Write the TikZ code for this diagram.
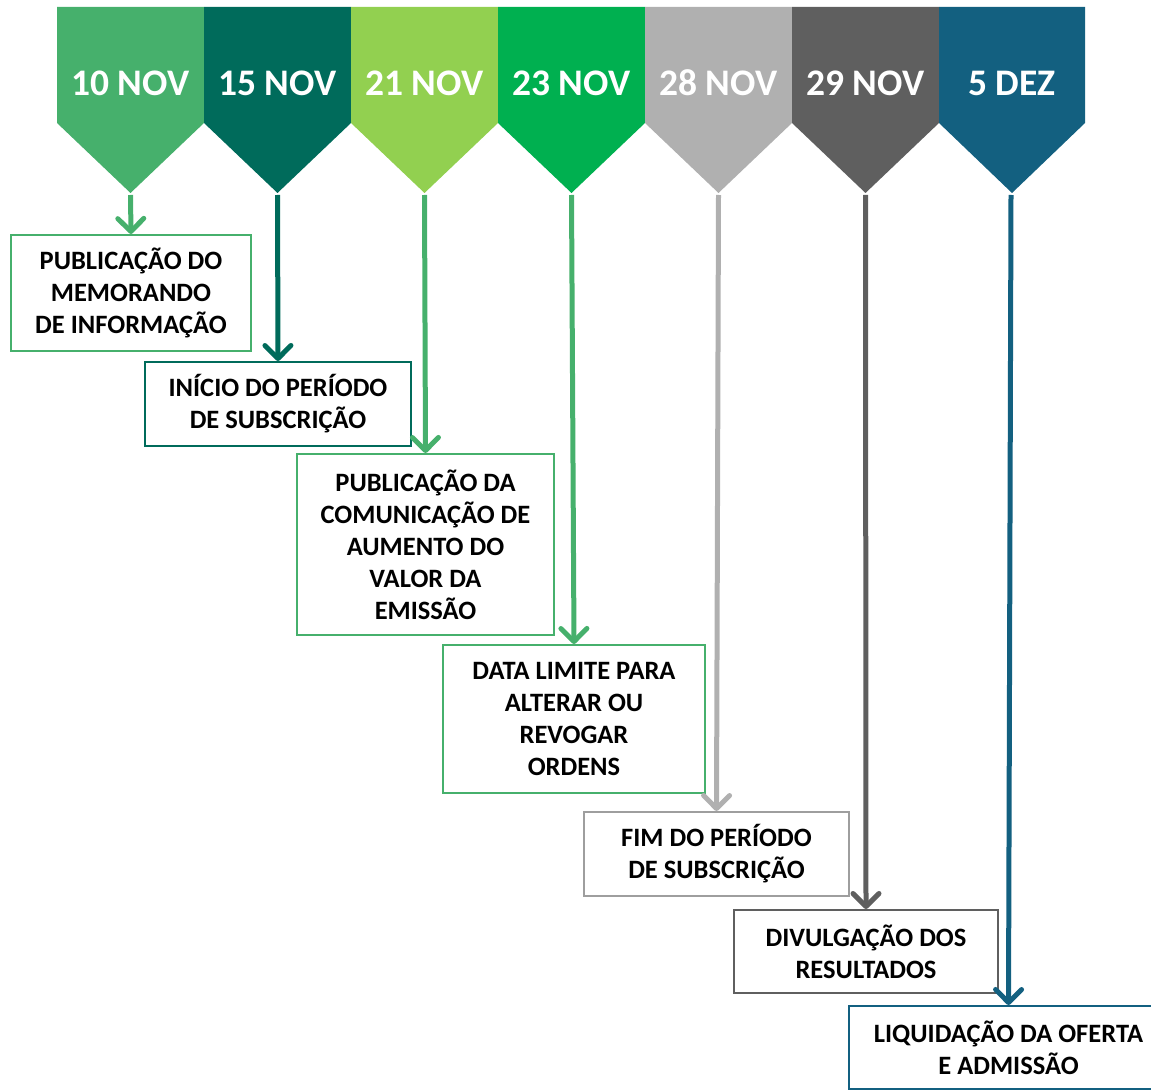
\documentclass[tikz,border=0pt]{standalone}
\usepackage{fontspec}
\setmainfont{Carlito}
\usetikzlibrary{arrows.meta}
\definecolor{cTen}{RGB}{70,176,108}
\definecolor{cFifteen}{RGB}{0,107,91}
\definecolor{cTwentyOne}{RGB}{146,208,80}
\definecolor{cTwentyThree}{RGB}{0,176,80}
\definecolor{cTwentyEight}{RGB}{176,176,176}
\definecolor{cTwentyNine}{RGB}{95,95,95}
\definecolor{cDez}{RGB}{19,96,128}
\tikzset{
  datelbl/.style={text=white,font=\fontsize{37.5}{42}\selectfont\bfseries,inner sep=0pt},
  evbox/.style={draw,line width=2pt,fill=white,inner sep=0pt,align=center,
    font=\fontsize{26.5}{32}\selectfont\bfseries},
  evarrow/.style={line width=5pt,-{Straight Barb[length=13pt,width=26pt,line cap=round,round]}}
}
\begin{document}
\begin{tikzpicture}[x=1pt,y=-1pt]
 \useasboundingbox (0,0) rectangle (1151,1091);
 % chevrons
 \fill[cTen](57,7)--(204,7)--(204,123)--(130.5,193)--(57,123)--cycle;
 \fill[cFifteen](204,7)--(351,7)--(351,123)--(277.5,193)--(204,123)--cycle;
 \fill[cTwentyOne](351,7)--(498,7)--(498,123)--(424.5,193)--(351,123)--cycle;
 \fill[cTwentyThree](498,7)--(645,7)--(645,123)--(571.5,193)--(498,123)--cycle;
 \fill[cTwentyEight](645,7)--(792,7)--(792,123)--(718.5,193)--(645,123)--cycle;
 \fill[cTwentyNine](792,7)--(939,7)--(939,123)--(865.5,193)--(792,123)--cycle;
 \fill[cDez](939,7)--(1085,7)--(1085,123)--(1012,193)--(939,123)--cycle;
 \node[datelbl] (d1) at (130.5,83) {10 NOV};
 \node[datelbl] (d2) at (277.5,83) {15 NOV};
 \node[datelbl] (d3) at (424.5,83) {21 NOV};
 \node[datelbl] (d4) at (571.5,83) {23 NOV};
 \node[datelbl] (d5) at (718.5,83) {28 NOV};
 \node[datelbl] (d6) at (865.5,83) {29 NOV};
 \node[datelbl] (d7) at (1012,83) {5 DEZ};
 \coordinate (t1) at (130.5,195);
 \coordinate (t2) at (277.5,195);
 \coordinate (t3) at (424.5,195);
 \coordinate (t4) at (571.5,195);
 \coordinate (t5) at (718.5,195);
 \coordinate (t6) at (865.5,195);
 \coordinate (t7) at (1011,195);
 % events
 \node[evbox,draw=cTen,minimum width=240,minimum height=116] (b1) at (131,293)
   {PUBLICAÇÃO DO\\MEMORANDO\\DE INFORMAÇÃO};
 \node[evbox,draw=cFifteen,minimum width=266,minimum height=84] (b2) at (278,404)
   {INÍCIO DO PERÍODO\\DE SUBSCRIÇÃO};
 \node[evbox,draw=cTen,minimum width=257,minimum height=181] (b3) at (425.5,544.5)
   {PUBLICAÇÃO DA\\COMUNICAÇÃO DE\\AUMENTO DO\\VALOR DA\\EMISSÃO};
 \node[evbox,draw=cTen,minimum width=262,minimum height=148] (b4) at (574,719)
   {DATA LIMITE PARA\\ALTERAR OU\\REVOGAR\\ORDENS};
 \node[evbox,draw=cTwentyEight!90!black,minimum width=265,minimum height=84] (b5) at (716.5,854)
   {FIM DO PERÍODO\\DE SUBSCRIÇÃO};
 \node[evbox,draw=cTwentyNine,minimum width=264,minimum height=83] (b6) at (866,951.5)
   {DIVULGAÇÃO DOS\\RESULTADOS};
 \node[evbox,draw=cDez,minimum width=319,minimum height=83] (b7) at (1008.5,1047.5)
   {LIQUIDAÇÃO DA OFERTA\\E ADMISSÃO};
 % arrows
 \draw[evarrow,cTen] (t1)--(b1.north);
 \draw[evarrow,cFifteen] (t2)--(b2.north);
 \draw[evarrow,cTen] (t3)--(b3.north);
 \draw[evarrow,cTen] (t4)--(b4.north);
 \draw[evarrow,cTwentyEight] (t5)--(b5.north);
 \draw[evarrow,cTwentyNine] (t6)--(b6.north);
 \draw[evarrow,cDez] (t7)--(b7.north);
\end{tikzpicture}
\end{document}
